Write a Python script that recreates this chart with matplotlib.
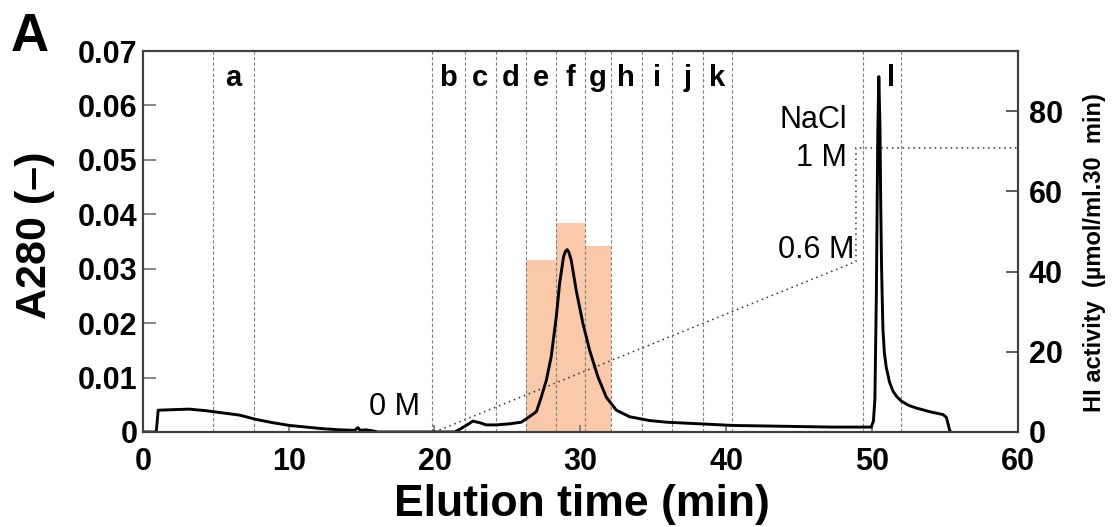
import numpy as np
import matplotlib.pyplot as plt

plt.rcParams['font.family'] = ['Liberation Sans', 'DejaVu Sans']

# A280 elution profile (min, absorbance)
time = [0, 0.92, 1.05, 2.06, 3.2, 4.35, 5.49, 6.63, 7.78, 8.92, 10.06, 11.2, 12.35,
        13.49, 14.52, 14.75, 14.9, 15.3, 15.77, 16.1, 21.4, 22.18, 22.63, 23.1, 23.55,
        24.24, 25.15, 25.95, 26.4, 26.87, 27.0, 27.32, 27.67, 28.0, 28.35, 28.58, 28.85,
        28.98, 29.1, 29.22, 29.38, 29.72, 30.18, 30.64, 31.21, 31.78, 32.47, 33.38,
        34.75, 35.9, 40.45, 47.3, 49.95, 50.1, 50.2, 50.3, 50.4, 50.47, 50.55, 50.6,
        50.66, 50.75, 50.85, 50.98, 51.2, 51.44, 51.7, 52.0, 52.5, 53.04, 54.0, 54.87,
        55.1, 55.33, 55.4]
a280 = [0, 0, 0.0040, 0.0041, 0.0042, 0.0039, 0.0035, 0.0031, 0.0023, 0.0017, 0.0012,
        0.0009, 0.0006, 0.0004, 0.0003, 0.0008, 0.0003, 0.0004, 0.0002, 0, 0, 0.0012,
        0.0020, 0.0017, 0.0013, 0.0013, 0.0015, 0.0018, 0.0026, 0.0035, 0.0038, 0.0064,
        0.0095, 0.0138, 0.0211, 0.0273, 0.0322, 0.0332, 0.0335, 0.0330, 0.0315, 0.0260,
        0.0199, 0.0150, 0.0101, 0.0064, 0.0040, 0.0028, 0.0021, 0.0018, 0.0012, 0.0009,
        0.0009, 0.0020, 0.0060, 0.0250, 0.0550, 0.0653, 0.0560, 0.0420, 0.0300, 0.0190,
        0.0145, 0.0119, 0.0092, 0.0075, 0.0065, 0.0057, 0.0049, 0.0044, 0.0037, 0.0032,
        0.0027, 0.0003, 0]

# fraction boundaries and labels
frac_edges = [4.8, 7.6, 19.8, 22.1, 24.2, 26.3, 28.3, 30.3, 32.1, 34.2, 36.3, 38.4,
              40.4, 49.4, 52.0]
frac_names = ['a', 'b', 'c', 'd', 'e', 'f', 'g', 'h', 'i', 'j', 'k', 'l']
frac_label_x = [6.2, 20.95, 23.15, 25.25, 27.3, 29.3, 31.2, 33.15, 35.25, 37.35, 39.4, 51.3]

# HI activity of active fractions e, f, g
act_start = [26.3, 28.3, 30.3]
act_width = [2.0, 2.0, 1.8]
hi_activity = [43, 52, 46.5]

# NaCl gradient
nacl_time = [20.0, 48.9, 48.9, 60]
nacl_conc = [0, 0.6, 1.0, 1.0]

fig = plt.figure(figsize=(11.16, 5.27), dpi=100)
ax = fig.add_axes([0.128, 0.1803, 0.784, 0.7229])
ax2 = ax.twinx()
ax3 = ax.twinx()
ax.set_zorder(ax2.get_zorder() + 2)
ax3.set_zorder(ax2.get_zorder() + 1)
ax.patch.set_visible(False)
ax3.patch.set_visible(False)

ax2.bar(act_start, hi_activity, width=act_width, align='edge', color='#F9C9A9',
        edgecolor='none')
ax2.set_ylim(0, 95)

ax3.plot(nacl_time, nacl_conc, ls=(0, (1, 2.5)), color='#333333', lw=1.1)
ax3.set_ylim(0, 0.07 / 0.0522)
ax3.axis('off')

for xe in frac_edges:
    ax.axvline(xe, color='#808080', ls=(0, (3, 2)), lw=0.8)
for name, xl in zip(frac_names, frac_label_x):
    ax.text(xl, 0.065, name, ha='center', va='center', fontsize=21, fontweight='bold')

ax.plot(time, a280, color='black', lw=2.1)

ax.text(19.0, 0.0046, '0 M', ha='right', va='center', fontsize=22)
ax.text(48.8, 0.0334, '0.6 M', ha='right', va='center', fontsize=22)
ax.text(48.3, 0.0503, '1 M', ha='right', va='center', fontsize=22)
ax.text(48.3, 0.0573, 'NaCl', ha='right', va='center', fontsize=22)

ax.set_xlim(0, 60)
ax.set_ylim(0, 0.07)
ax.set_xticks(np.arange(0, 61, 10))
ax.set_yticks(np.arange(0, 0.071, 0.01))
ax.set_yticklabels(['0', '0.01', '0.02', '0.03', '0.04', '0.05', '0.06', '0.07'])
ax.tick_params(axis='both', direction='in', colors='#707070', labelcolor='black',
               width=1.2)
ax.tick_params(axis='y', length=9, labelsize=22, pad=4)
ax.tick_params(axis='x', length=5, labelsize=22, pad=11)
for lab in ax.get_xticklabels() + ax.get_yticklabels():
    lab.set_fontweight('bold')

ax2.set_yticks([0, 20, 40, 60, 80])
ax2.tick_params(axis='y', direction='in', length=9, colors='#404040', labelcolor='black',
                labelsize=22, width=1.2, pad=8)
for lab in ax2.get_yticklabels():
    lab.set_fontweight('bold')

for a in (ax, ax2):
    for sp in a.spines.values():
        sp.set_color('#404040')
        sp.set_linewidth(1.5)

ax.set_xlabel('Elution time (min)', fontsize=32, fontweight='bold')
ax.xaxis.set_label_coords(0.502, -0.137)
ax.set_ylabel('A280 (–)', fontsize=31, fontweight='bold')
ax.yaxis.set_label_coords(-0.100, 0.517)
ax2.set_ylabel('HI activity  (µmol/ml.30  min)', fontsize=17, fontweight='bold')
ax2.yaxis.set_label_coords(1.074, 0.472)

fig.text(0.010, 0.977, 'A', fontsize=38, fontweight='bold', va='top', ha='left')

fig.savefig('out.png', dpi=100)
